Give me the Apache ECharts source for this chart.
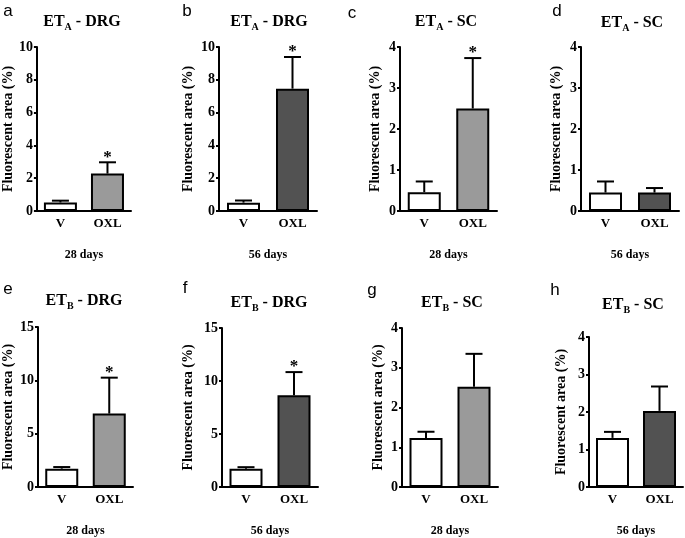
<!DOCTYPE html>
<html>
<head>
<meta charset="utf-8">
<script src="https://cdn.jsdelivr.net/npm/echarts@6/dist/echarts.min.js"></script>
<style>
  html, body { margin: 0; padding: 0; background: #fff; }
  #main { width: 685px; height: 538px; }
</style>
</head>
<body>
<div id="main"></div>
<script>
// values (mean, SEM) for each of the 8 panels a-h
const categories = ['V', 'OXL'];
const panelLetters = ['a', 'b', 'c', 'd', 'e', 'f', 'g', 'h'];
const receptors = ['A', 'A', 'A', 'A', 'B', 'B', 'B', 'B'];
const tissues = ['DRG', 'DRG', 'SC', 'SC', 'DRG', 'DRG', 'SC', 'SC'];
const dayLabels = ['28 days', '56 days', '28 days', '56 days', '28 days', '56 days', '28 days', '56 days'];
const yMax = [10, 10, 4, 4, 15, 15, 4, 4];
const yStep = [2, 2, 1, 1, 5, 5, 1, 1];
const vehicleMean = [0.52, 0.51, 0.46, 0.45, 1.72, 1.72, 1.23, 1.31];
const vehicleSem = [0.11, 0.13, 0.26, 0.27, 0.15, 0.15, 0.16, 0.16];
const oxlMean = [2.28, 7.46, 2.50, 0.45, 6.88, 8.66, 2.52, 2.03];
const oxlSem = [0.69, 1.93, 1.23, 0.11, 3.37, 2.18, 0.83, 0.65];
const oxlSignificant = [true, true, true, false, true, true, false, false];

// layout of each panel: plot rect, y-name gap, title / letter positions
const layout = [
  { left: 33, top: 47, width: 98, height: 164, nameGap: 18, letter: [8, 11], title: [82, 22] },
  { left: 219, top: 47, width: 98, height: 164, nameGap: 24, letter: [187, 11], title: [269, 22] },
  { left: 400, top: 47, width: 97, height: 164, nameGap: 18, letter: [352, 13], title: [446, 22] },
  { left: 581, top: 47, width: 98, height: 164, nameGap: 18, letter: [557, 11], title: [632, 23] },
  { left: 36, top: 327, width: 97, height: 161, nameGap: 23, letter: [8, 289], title: [84, 301] },
  { left: 222, top: 328, width: 96, height: 160, nameGap: 27, letter: [185, 288], title: [269, 303] },
  { left: 402, top: 328, width: 96, height: 160, nameGap: 17, letter: [372, 290], title: [452, 303] },
  { left: 589, top: 337, width: 94, height: 151, nameGap: 21, letter: [555, 290], title: [633, 305] }
];

const serif = '"Liberation Serif", "Times New Roman", serif';
const lightGray = '#9a9a9a';
const darkGray = '#525252';

function renderErr (params, api) {
  const base = api.coord([api.value(0), api.value(1)]);
  const top = api.coord([api.value(0), api.value(2)]);
  const half = 8.5;
  const children = [
    { type: 'line', shape: { x1: base[0], y1: base[1], x2: top[0], y2: top[1] }, style: { stroke: '#000', lineWidth: 2 } },
    { type: 'line', shape: { x1: top[0] - half, y1: top[1], x2: top[0] + half, y2: top[1] }, style: { stroke: '#000', lineWidth: 2 } }
  ];
  if (api.value(3)) {
    children.push({
      type: 'text', x: top[0], y: top[1] - 5,
      style: { text: '*', font: 'bold 17px ' + serif, align: 'center', verticalAlign: 'middle', fill: '#000' }
    });
  }
  return { type: 'group', children: children };
}

const grids = [], xAxes = [], yAxes = [], series = [], graphics = [];

layout.forEach(function (p, i) {
  const is56 = dayLabels[i] === '56 days';
  grids.push({ left: p.left, top: p.top, width: p.width, height: p.height });
  xAxes.push({
    type: 'category', gridIndex: i, data: categories,
    name: dayLabels[i], nameLocation: 'middle', nameGap: 38,
    nameTextStyle: { fontFamily: serif, fontWeight: 'bold', fontSize: 12, color: '#000' },
    axisLine: { lineStyle: { color: '#000', width: 2 } },
    axisTick: { alignWithLabel: true, length: 4, lineStyle: { color: '#000', width: 2 } },
    axisLabel: { fontFamily: serif, fontWeight: 'bold', fontSize: 13, color: '#000', margin: 6 }
  });
  yAxes.push({
    type: 'value', gridIndex: i, min: 0, max: yMax[i], interval: yStep[i],
    name: 'Fluorescent area (%)', nameLocation: 'middle', nameGap: p.nameGap,
    nameTextStyle: { fontFamily: serif, fontWeight: 'bold', fontSize: 14, color: '#000' },
    axisLine: { show: true, lineStyle: { color: '#000', width: 2 } },
    axisTick: { show: true, length: 3, lineStyle: { color: '#000', width: 2 } },
    axisLabel: { fontFamily: serif, fontWeight: 'bold', fontSize: 14, color: '#000', margin: 4 },
    splitLine: { show: false }
  });
  series.push({
    type: 'bar', xAxisIndex: i, yAxisIndex: i, barWidth: 33,
    data: [
      { value: vehicleMean[i], itemStyle: { color: '#fff' } },
      { value: oxlMean[i], itemStyle: { color: is56 ? darkGray : lightGray } }
    ],
    itemStyle: { borderColor: '#000', borderWidth: 2 },
    z: 2
  });
  series.push({
    type: 'custom', xAxisIndex: i, yAxisIndex: i, renderItem: renderErr, z: 1,
    data: [
      [0, vehicleMean[i], vehicleMean[i] + vehicleSem[i], 0],
      [1, oxlMean[i], oxlMean[i] + oxlSem[i], oxlSignificant[i] ? 1 : 0]
    ]
  });
  graphics.push({
    type: 'text', x: p.letter[0], y: p.letter[1],
    style: { text: panelLetters[i], font: '17px "Liberation Sans", Arial, sans-serif', fill: '#000', align: 'center', verticalAlign: 'middle' }
  });
  graphics.push({
    type: 'text', x: p.title[0], y: p.title[1],
    style: {
      text: '{m|ET}{s|' + receptors[i] + '}{m| - ' + tissues[i] + '}',
      align: 'center', verticalAlign: 'middle',
      rich: {
        m: { fontFamily: serif, fontWeight: 'bold', fontSize: 16, lineHeight: 20, fill: '#000' },
        s: { fontFamily: serif, fontWeight: 'bold', fontSize: 10, lineHeight: 10, verticalAlign: 'bottom', fill: '#000' }
      }
    }
  });
});

const chart = echarts.init(document.getElementById('main'));
chart.setOption({
  animation: false,
  backgroundColor: '#fff',
  grid: grids,
  xAxis: xAxes,
  yAxis: yAxes,
  series: series,
  graphic: graphics
});
</script>
</body>
</html>
